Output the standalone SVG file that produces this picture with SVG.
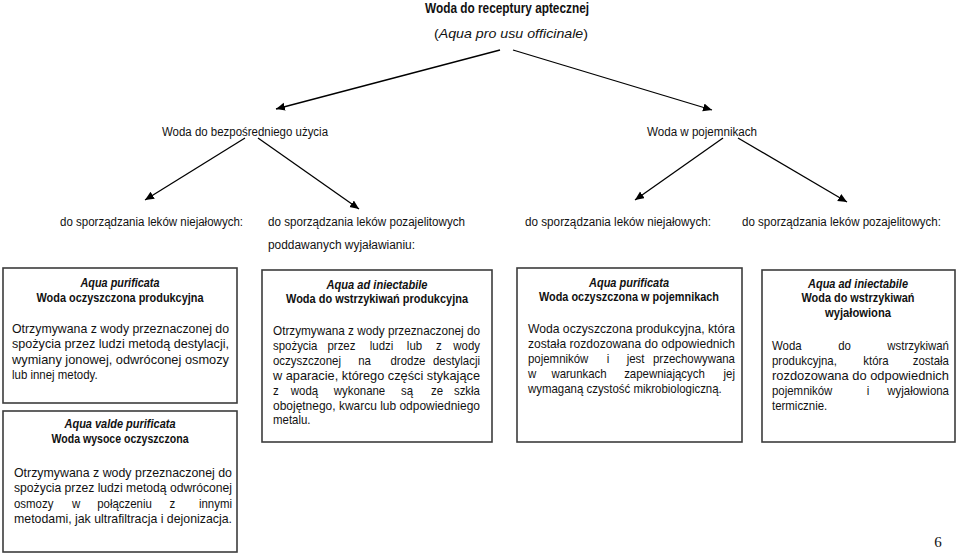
<svg xmlns="http://www.w3.org/2000/svg" width="960" height="554" viewBox="0 0 960 554">
<defs>
<marker id="ah" markerUnits="userSpaceOnUse" markerWidth="12" markerHeight="10" refX="9" refY="4" orient="auto">
<path d="M0,0 L9,4 L0,8 Z" fill="#000"/>
</marker>
<style>
text{font-family:"Liberation Sans",Arial,sans-serif;fill:#111;}
.t{font-size:13.5px;}
.tb{font-size:14px;font-weight:bold;}
.l{font-size:12.5px;}
.h{font-size:12.5px;font-weight:bold;text-anchor:middle;}
.hi{font-size:12.5px;font-weight:bold;font-style:italic;text-anchor:middle;}
.b text{font-size:13px;}
.m{text-anchor:middle;}
.e{text-anchor:end;}
.box{fill:#fff;stroke:#3c3c3c;stroke-width:1.6;}
.c{stroke:#000;stroke-width:1.3;fill:none;marker-end:url(#ah);}
</style>
</defs>
<rect width="960" height="554" fill="#fff"/>

<g id="title">
<text class="tb" x="425" y="13" textLength="164" lengthAdjust="spacingAndGlyphs">Woda do receptury aptecznej</text>
<text class="t" x="434" y="38" textLength="154" lengthAdjust="spacingAndGlyphs">(<tspan font-style="italic">Aqua pro usu officinale</tspan>)</text>
</g>

<g id="connectors">
<line class="c" x1="500" y1="50" x2="276" y2="109"/>
<line class="c" x1="513" y1="50" x2="712" y2="110"/>
<line class="c" x1="245" y1="138" x2="145" y2="200"/>
<line class="c" x1="258" y1="138" x2="359" y2="209"/>
<line class="c" x1="723" y1="138" x2="635" y2="200"/>
<line class="c" x1="738" y1="138" x2="847" y2="202"/>
</g>

<g id="n-bezposredni">
<text class="l" x="162" y="136" textLength="166" lengthAdjust="spacingAndGlyphs">Woda do bezpośredniego użycia</text>
</g>
<g id="n-pojemniki">
<text class="l" x="647" y="136" textLength="110" lengthAdjust="spacingAndGlyphs">Woda w pojemnikach</text>
</g>

<g id="n-l2a">
<text class="l" x="60" y="226" textLength="183" lengthAdjust="spacingAndGlyphs">do sporządzania leków niejałowych:</text>
</g>
<g id="n-l2b">
<text class="l" x="268" y="226" textLength="197" lengthAdjust="spacingAndGlyphs">do sporządzania leków pozajelitowych</text>
<text class="l" x="268" y="249" textLength="147" lengthAdjust="spacingAndGlyphs">poddawanych wyjaławianiu:</text>
</g>
<g id="n-l2c">
<text class="l" x="525" y="226" textLength="186" lengthAdjust="spacingAndGlyphs">do sporządzania leków niejałowych:</text>
</g>
<g id="n-l2d">
<text class="l" x="742" y="226" textLength="199" lengthAdjust="spacingAndGlyphs">do sporządzania leków pozajelitowych:</text>
</g>

<g id="box1">
<rect class="box" x="3" y="268" width="234" height="135"/>
<text class="hi" x="120" y="287" textLength="79" lengthAdjust="spacingAndGlyphs">Aqua purificata</text>
<text class="h" x="120" y="302" textLength="167" lengthAdjust="spacingAndGlyphs">Woda oczyszczona produkcyjna</text>
<g class="b" transform="translate(12 0) scale(0.88 1)">
<text x="0" y="333" textLength="246.6" lengthAdjust="spacingAndGlyphs">Otrzymywana z wody przeznaczonej do</text>
<text x="0" y="348.5" textLength="246.6" lengthAdjust="spacingAndGlyphs">spożycia przez ludzi metodą destylacji,</text>
<text x="0" y="364" textLength="246.6" lengthAdjust="spacingAndGlyphs">wymiany jonowej, odwróconej osmozy</text>
<text x="0" y="379.5">lub innej metody.</text>
</g>
</g>

<g id="box2">
<rect class="box" x="3" y="411" width="234" height="141"/>
<text class="hi" x="120" y="428" textLength="111" lengthAdjust="spacingAndGlyphs">Aqua valde purificata</text>
<text class="h" x="120" y="443" textLength="137" lengthAdjust="spacingAndGlyphs">Woda wysoce oczyszczona</text>
<g class="b" transform="translate(14 0) scale(0.88 1)">
<text x="0" y="477" textLength="247.7" lengthAdjust="spacingAndGlyphs">Otrzymywana z wody przeznaczonej do</text>
<text x="0" y="492.5" textLength="247.7" lengthAdjust="spacingAndGlyphs">spożycia przez ludzi metodą odwróconej</text>
<text x="0" y="508">osmozy</text>
<text class="m" x="70.5" y="508">w</text>
<text class="m" x="125.6" y="508">połączeniu</text>
<text class="m" x="180.1" y="508">z</text>
<text class="e" x="247.7" y="508">innymi</text>
<text x="0" y="523.5" textLength="247.7" lengthAdjust="spacingAndGlyphs">metodami, jak ultrafiltracja i dejonizacja.</text>
</g>
</g>

<g id="box3">
<rect class="box" x="262" y="270" width="230" height="172"/>
<text class="hi" x="377" y="289" textLength="101" lengthAdjust="spacingAndGlyphs">Aqua ad iniectabile</text>
<text class="h" x="377" y="303" textLength="182" lengthAdjust="spacingAndGlyphs">Woda do wstrzykiwań produkcyjna</text>
<g class="b" transform="translate(273 0) scale(0.88 1)">
<text x="0" y="335" textLength="235.2" lengthAdjust="spacingAndGlyphs">Otrzymywana z wody przeznaczonej do</text>
<text x="0" y="350">spożycia</text>
<text class="m" x="77.8" y="350">przez</text>
<text class="m" x="123.3" y="350">ludzi</text>
<text class="m" x="160.8" y="350">lub</text>
<text class="m" x="188.6" y="350">z</text>
<text class="e" x="235.2" y="350">wody</text>
<text x="0" y="365">oczyszczonej</text>
<text class="m" x="104" y="365">na</text>
<text class="m" x="153.4" y="365">drodze</text>
<text class="e" x="235.2" y="365">destylacji</text>
<text x="0" y="380" textLength="235.2" lengthAdjust="spacingAndGlyphs">w aparacie, którego części stykające</text>
<text x="0" y="395">z</text>
<text class="m" x="35.8" y="395">wodą</text>
<text class="m" x="98.3" y="395">wykonane</text>
<text class="m" x="152.3" y="395">są</text>
<text class="m" x="186.4" y="395">ze</text>
<text class="e" x="235.2" y="395">szkła</text>
<text x="0" y="410" textLength="235.2" lengthAdjust="spacingAndGlyphs">obojętnego, kwarcu lub odpowiedniego</text>
<text x="0" y="424.5">metalu.</text>
</g>
</g>

<g id="box4">
<rect class="box" x="517" y="268" width="225" height="174"/>
<text class="hi" x="629" y="287" textLength="80" lengthAdjust="spacingAndGlyphs">Aqua purificata</text>
<text class="h" x="629" y="301" textLength="180" lengthAdjust="spacingAndGlyphs">Woda oczyszczona w pojemnikach</text>
<g class="b" transform="translate(528 0) scale(0.88 1)">
<text x="0" y="333" textLength="235.2" lengthAdjust="spacingAndGlyphs">Woda oczyszczona produkcyjna, która</text>
<text x="0" y="348" textLength="235.2" lengthAdjust="spacingAndGlyphs">została rozdozowana do odpowiednich</text>
<text x="0" y="363">pojemników</text>
<text class="m" x="90.9" y="363">i</text>
<text class="m" x="122.2" y="363">jest</text>
<text class="e" x="235.2" y="363">przechowywana</text>
<text x="0" y="378">w</text>
<text class="m" x="58" y="378">warunkach</text>
<text class="m" x="155.1" y="378">zapewniających</text>
<text class="e" x="235.2" y="378">jej</text>
<text x="0" y="393">wymaganą czystość mikrobiologiczną.</text>
</g>
</g>

<g id="box5">
<rect class="box" x="762" y="270" width="193" height="172"/>
<text class="hi" x="858" y="288" textLength="100" lengthAdjust="spacingAndGlyphs">Aqua ad iniectabile</text>
<text class="h" x="858" y="302" textLength="113" lengthAdjust="spacingAndGlyphs">Woda do wstrzykiwań</text>
<text class="h" x="858" y="317" textLength="66" lengthAdjust="spacingAndGlyphs">wyjałowiona</text>
<g class="b" transform="translate(772 0) scale(0.88 1)">
<text x="0" y="350">Woda</text>
<text class="m" x="82.4" y="350">do</text>
<text class="e" x="201.1" y="350">wstrzykiwań</text>
<text x="0" y="365">produkcyjna,</text>
<text class="m" x="118.2" y="365">która</text>
<text class="e" x="201.1" y="365">została</text>
<text x="0" y="380" textLength="201.1" lengthAdjust="spacingAndGlyphs">rozdozowana do odpowiednich</text>
<text x="0" y="395">pojemników</text>
<text class="m" x="109.1" y="395">i</text>
<text class="e" x="201.1" y="395">wyjałowiona</text>
<text x="0" y="410">termicznie.</text>
</g>
</g>

<g id="page">
<text x="938" y="547" style="font-family:'Liberation Serif','Times New Roman',serif;font-size:15px;text-anchor:middle;">6</text>
</g>
</svg>
